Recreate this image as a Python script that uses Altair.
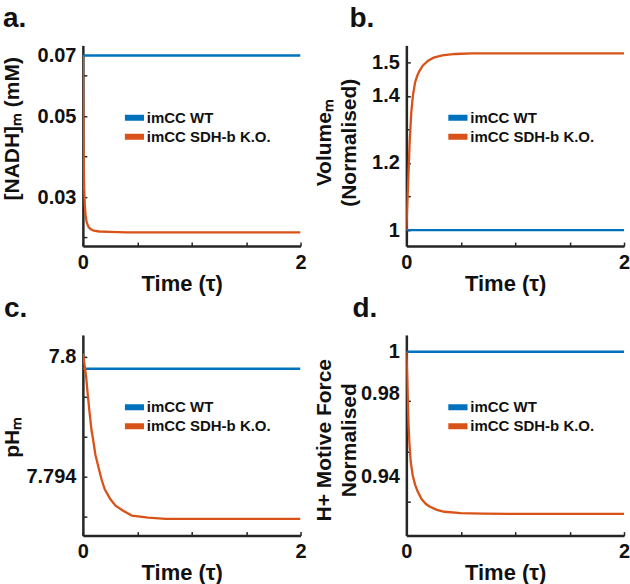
import altair as alt
import pandas as pd

# ---------------- data ----------------
SERIES = ["imCC WT", "imCC SDH-b K.O."]
COLORS = ["#0072BD", "#D95319"]

T_WT = [0.0, 2.0]

# a. [NADH]m (mM)
NADH_WT = [0.065, 0.065]
T_NADH_KO = [0, 0.002, 0.005, 0.008, 0.012, 0.018, 0.025, 0.035, 0.05, 0.07,
             0.1, 0.15, 0.25, 0.4, 0.7, 1.0, 1.5, 2.0]
NADH_KO = [0.065, 0.056, 0.045, 0.038, 0.032, 0.028, 0.0255, 0.0238, 0.0227, 0.0221,
           0.0217, 0.0215, 0.0214, 0.0213, 0.0213, 0.0213, 0.0213, 0.0213]

# b. Volume_m (normalised)
VOL_WT = [1.0, 1.0]
T_VOL_KO = [0, 0.005, 0.01, 0.015, 0.02, 0.03, 0.045, 0.06, 0.08, 0.1,
            0.12, 0.15, 0.2, 0.25, 0.33, 0.45, 0.6, 1.0, 1.5, 2.0]
VOL_KO = [1.0, 1.045, 1.09, 1.128, 1.17, 1.26, 1.35, 1.40, 1.44, 1.46,
          1.474, 1.49, 1.505, 1.514, 1.521, 1.525, 1.527, 1.527, 1.527, 1.527]

# c. pH_m
PH_WT = [7.7994, 7.7994]
T_PH_KO = [0, 0.01, 0.02, 0.03, 0.045, 0.062, 0.08, 0.093, 0.115, 0.14, 0.17,
           0.2, 0.25, 0.3, 0.37, 0.45, 0.6, 0.76, 1.0, 1.5, 2.0]
PH_KO = [7.80015, 7.7998, 7.7994, 7.7990, 7.7981, 7.7972, 7.7963, 7.7959, 7.7951,
         7.79455, 7.7939, 7.79339, 7.7929, 7.79256, 7.7923, 7.79206, 7.79196,
         7.7919, 7.7919, 7.7919, 7.7919]

# d. H+ motive force (normalised)
PMF_WT = [1.0, 1.0]
T_PMF_KO = [0, 0.004, 0.008, 0.012, 0.02, 0.028, 0.04, 0.058, 0.08, 0.105,
            0.14, 0.18, 0.213, 0.28, 0.35, 0.5, 0.7, 1.0, 1.5, 2.0]
PMF_KO = [1.0, 0.995, 0.988, 0.980, 0.965, 0.956, 0.947, 0.9405, 0.936, 0.9325,
          0.929, 0.9266, 0.9254, 0.9238, 0.9229, 0.9222, 0.922, 0.9219, 0.9219, 0.9219]

X_LABELS = [0, 1, 2]
X_TICKS = [0, 0.5, 1, 1.5, 2]

A_LAB_VALS = [0.065, 0.05, 0.03]
A_LAB_TXT = ["0.07", "0.05", "0.03"]
A_TICKS = [0.02, 0.03, 0.04, 0.05, 0.06]

B_LAB_VALS = [1.0, 1.2, 1.4, 1.5]
B_LAB_TXT = ["1", "1.2", "1.4", "1.5"]
B_TICKS = [1.0, 1.1, 1.2, 1.3, 1.4, 1.5]

C_LAB_VALS = [7.794, 7.8]
C_LAB_TXT = ["7.794", "7.8"]
C_TICKS = [7.792, 7.794, 7.796, 7.798, 7.8]

D_LAB_VALS = [0.94, 0.98, 1.0]
D_LAB_TXT = ["0.94", "0.98", "1"]
D_TICKS = [0.9276, 0.9519, 0.9762]

# ---------------- style ----------------
FONT = "Liberation Sans"
AX = "#262626"
TXT = "#111111"
W, H = 218, 201
LEGEND_SYMBOL = "M-1.5,0L1.5,0"


def label_expr(vals, texts):
    expr = "''"
    for v, t in zip(reversed(vals), reversed(texts)):
        expr = f"abs(datum.value - {v}) < 1e-9 ? '{t}' : ({expr})"
    return expr


def panel(t_ko, v_wt, v_ko, letter, letter_dx, ytitle, ydomain,
          lab_vals, lab_txt, tick_vals, title_x, title_y):
    df = pd.DataFrame({
        "t": list(T_WT) + list(t_ko),
        "v": list(v_wt) + list(v_ko),
        "series": [SERIES[0]] * len(T_WT) + [SERIES[1]] * len(t_ko),
    })
    xscale = alt.Scale(domain=[0, 2], nice=False, zero=False)
    yscale = alt.Scale(domain=ydomain, nice=False, zero=False)

    lines = alt.Chart(df).mark_line(strokeWidth=2.3, clip=True).encode(
        x=alt.X("t:Q", scale=xscale, axis=alt.Axis(
            orient="bottom", values=X_LABELS, format="d", ticks=False, tickSize=0,
            labelOverlap=False, labelFlush=False,
            labelPadding=6, labelFont=FONT, labelFontSize=20, labelFontWeight="bold",
            labelColor=TXT, domainColor=AX, domainWidth=2.5, grid=False,
            title="Time (τ)", titleFont=FONT, titleFontSize=22, titleFontWeight="bold",
            titleColor=TXT, titleX=99, titleY=44, titleAlign="center",
            titleBaseline="alphabetic")),
        y=alt.Y("v:Q", scale=yscale, axis=alt.Axis(
            orient="left", values=lab_vals, labelExpr=label_expr(lab_vals, lab_txt),
            labelOverlap=False, labelFlush=False,
            ticks=False, tickSize=0, labelPadding=7, labelFont=FONT, labelFontSize=20,
            labelFontWeight="bold", labelColor=TXT, domainColor=AX, domainWidth=2.5,
            grid=False, title=ytitle, titleFont=FONT, titleFontSize=21,
            titleFontWeight="bold", titleColor=TXT, titleX=title_x, titleY=title_y,
            titleAlign="center", titleBaseline="middle", titleAngle=270,
            titleLineHeight=25)),
        color=alt.Color("series:N", sort=SERIES,
                        scale=alt.Scale(domain=SERIES, range=COLORS),
                        legend=alt.Legend(
                            orient="none", legendX=42, legendY=63, title=None,
                            symbolType=LEGEND_SYMBOL, symbolStrokeWidth=6,
                            symbolSize=169, clipHeight=19, labelFont=FONT,
                            labelFontSize=15, labelFontWeight="bold", labelColor=TXT,
                            labelOffset=3, padding=0, rowPadding=0)),
    )
    tick_layer = alt.Chart(df).mark_point(opacity=0).encode(
        x=alt.X("t:Q", scale=xscale, axis=alt.Axis(
            orient="bottom", values=X_TICKS, labels=False, domain=False, ticks=True,
            tickSize=4, tickWidth=1.5, tickColor=AX, offset=-4, title=None, grid=False)),
        y=alt.Y("v:Q", scale=yscale, axis=alt.Axis(
            orient="left", values=tick_vals, labels=False, domain=False, ticks=True,
            tickSize=4, tickWidth=1.5, tickColor=AX, offset=-4, title=None, grid=False)),
    )
    return alt.layer(lines, tick_layer).resolve_axis(
        x="independent", y="independent"
    ).properties(
        width=W, height=H,
        title=alt.TitleParams(letter, anchor="start", frame="group", dx=letter_dx,
                              dy=28, offset=18, fontSize=28, font=FONT,
                              fontWeight="bold", color=TXT, baseline="alphabetic"),
    )


pa = panel(T_NADH_KO, NADH_WT, NADH_KO, "a.", -80, "[NADH]ₘ (mM)",
           [0.0179, 0.0675], A_LAB_VALS, A_LAB_TXT, A_TICKS, -70, 83)
pb = panel(T_VOL_KO, VOL_WT, VOL_KO, "b.", -57, ["Volumeₘ", "(Normalised)"],
           [0.9524, 1.5506], B_LAB_VALS, B_LAB_TXT, B_TICKS, -82, 97)
pc = panel(T_PH_KO, PH_WT, PH_KO, "c.", -79, "pHₘ",
           [7.79106, 7.80109], C_LAB_VALS, C_LAB_TXT, C_TICKS, -70, 102)
pd_ = panel(T_PMF_KO, PMF_WT, PMF_KO, "d.", -54, ["H+ Motive Force", "Normalised"],
            [0.9114, 1.0081], D_LAB_VALS, D_LAB_TXT, D_TICKS, -82, 105)

chart = alt.concat(
    pa, pb, pc, pd_, columns=2, spacing={"row": 89, "column": 106}, bounds="flush"
).resolve_scale(color="independent").properties(
    padding={"left": 2, "top": 5, "right": 0, "bottom": 0},
    background="white",
).configure_view(stroke=None)

chart.save("out.html", embed_options={"renderer": "svg", "actions": False})
